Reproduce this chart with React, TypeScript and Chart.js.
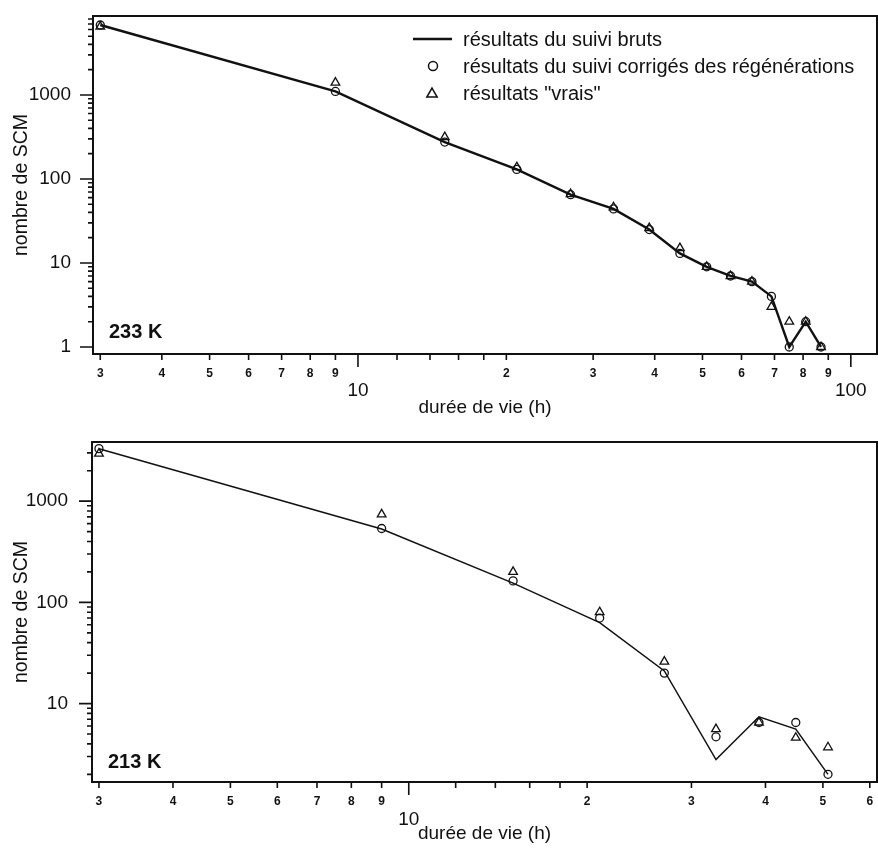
import React, { useEffect, useRef } from 'react';
import { Chart, registerables } from 'chart.js';

Chart.register(...registerables);

const FONT = "'Liberation Sans', Arial, Helvetica, sans-serif";
const INK = '#111';

// Durées de vie (h) et nombres de SCM à 233 K
const hours233 = [3, 9, 15, 21, 27, 33, 39, 45, 51, 57, 63, 69, 75, 81, 87];
const brut233 = [6800, 1100, 275, 130, 65, 44, 25, 13, 9, 7, 6, 4, 1, 2, 1];
const corr233 = [6800, 1100, 275, 130, 65, 44, 25, 13, 9, 7, 6, 4, 1, 2, 1];
const vrai233 = [6500, 1400, 315, 138, 66, 46, 26, 15, 9, 7, 6, 3, 2, 2, 1];

// Durées de vie (h) et nombres de SCM à 213 K
const hours213 = [3, 9, 15, 21, 27, 33, 39, 45, 51];
const brut213 = [3300, 530, 155, 63, 21, 2.8, 7.4, 5.6, 2];
const corr213 = [3300, 537, 163, 70, 20, 4.7, 6.5, 6.5, 2];
const vrai213 = [2950, 740, 200, 80, 26, 5.6, 6.5, 4.6, 3.7];

// Graduations
const xTicks233 = [3, 4, 5, 6, 7, 8, 9, 10, 12, 14, 16, 18, 20, 30, 40, 50, 60, 70, 80, 90, 100];
const xTicks213 = [3, 4, 5, 6, 7, 8, 9, 10, 12, 14, 16, 18, 20, 30, 40, 50, 60];
const yTicks233 = [
  1, 2, 3, 4, 5, 6, 7, 8, 9,
  10, 20, 30, 40, 50, 60, 70, 80, 90,
  100, 200, 300, 400, 500, 600, 700, 800, 900,
  1000, 2000, 3000, 4000, 5000, 6000, 7000, 8000,
];
const yTicks213 = [
  2, 3, 4, 5, 6, 7, 8, 9,
  10, 20, 30, 40, 50, 60, 70, 80, 90,
  100, 200, 300, 400, 500, 600, 700, 800, 900,
  1000, 2000, 3000,
];
const xMajor = [10, 100];
const xUnlabeled = [12, 14, 16, 18];
const yMajor = [1, 10, 100, 1000];

const legendLabels = [
  'résultats du suivi bruts',
  'résultats du suivi corrigés des régénérations',
  'résultats "vrais"',
];
const xTitle = 'durée de vie (h)';
const yTitle = 'nombre de SCM';

interface PanelCfg {
  tag: string;
  hours: number[];
  brut: number[];
  corr: number[];
  vrai: number[];
  xTicks: number[];
  yTicks: number[];
  xMin: number;
  xMax: number;
  yMin: number;
  yMax: number;
  height: number;
  padTop: number;
  yWidth: number;
  xHeight: number;
  yTickPad: number;
  xTitlePad: number;
  majorLH: number;
  lineWidth: number;
  tagDy: number;
  legend: boolean;
}

const panels: PanelCfg[] = [
  {
    tag: '233 K', hours: hours233, brut: brut233, corr: corr233, vrai: vrai233,
    xTicks: xTicks233, yTicks: yTicks233,
    xMin: 2.9, xMax: 113, yMin: 0.825, yMax: 8700,
    height: 420, padTop: 16, yWidth: 93, xHeight: 66, yTickPad: 22, xTitlePad: 0.6,
    majorLH: 16.7, lineWidth: 2.4, tagDy: 22, legend: true,
  },
  {
    tag: '213 K', hours: hours213, brut: brut213, corr: corr213, vrai: vrai213,
    xTicks: xTicks213, yTicks: yTicks213,
    xMin: 2.92, xMax: 61.7, yMin: 1.68, yMax: 3840,
    height: 429, padTop: 22, yWidth: 92, xHeight: 67, yTickPad: 24, xTitlePad: 3.6,
    majorLH: 17.3, lineWidth: 1.5, tagDy: 20, legend: false,
  },
];

function xLabel(v: number): string | string[] {
  if (xMajor.includes(v)) return ['', String(v)];
  if (xUnlabeled.includes(v)) return '';
  return String(v >= 10 ? Math.round(v / 10) : v);
}

function triangle(ctx: CanvasRenderingContext2D, x: number, y: number, r: number) {
  ctx.beginPath();
  for (let k = 0; k < 3; k++) {
    const a = (k * 2 * Math.PI) / 3;
    const px = x + Math.sin(a) * r;
    const py = y - Math.cos(a) * r;
    if (k === 0) ctx.moveTo(px, py);
    else ctx.lineTo(px, py);
  }
  ctx.closePath();
  ctx.stroke();
}

function makeDecor(cfg: PanelCfg) {
  return {
    id: 'panelDecor',
    afterDraw(chart: any) {
      const { ctx, chartArea: a, scales } = chart;
      ctx.save();
      ctx.strokeStyle = INK;
      ctx.fillStyle = INK;
      ctx.lineWidth = 1.6;
      ctx.beginPath();
      for (const t of scales.x.ticks) {
        const px = scales.x.getPixelForValue(t.value);
        const len = xMajor.includes(t.value) ? 13 : 6;
        ctx.moveTo(px, a.bottom);
        ctx.lineTo(px, a.bottom + len);
      }
      for (const t of scales.y.ticks) {
        const py = scales.y.getPixelForValue(t.value);
        const len = yMajor.includes(t.value) ? 13 : 5;
        ctx.moveTo(a.left - len, py);
        ctx.lineTo(a.left, py);
      }
      ctx.stroke();

      ctx.lineWidth = 2;
      ctx.strokeRect(a.left, a.top, a.right - a.left, a.bottom - a.top);

      ctx.font = `bold 20px ${FONT}`;
      ctx.textBaseline = 'middle';
      ctx.textAlign = 'left';
      ctx.fillText(cfg.tag, a.left + 16, a.bottom - cfg.tagDy);

      if (cfg.legend) {
        const sx = a.left + 320;
        const tx = a.left + 370;
        const rows = [a.top + 23, a.top + 50, a.top + 77];
        ctx.lineWidth = cfg.lineWidth;
        ctx.beginPath();
        ctx.moveTo(sx, rows[0]);
        ctx.lineTo(sx + 39, rows[0]);
        ctx.stroke();
        ctx.lineWidth = 1.5;
        ctx.beginPath();
        ctx.arc(sx + 20, rows[1], 4.5, 0, Math.PI * 2);
        ctx.stroke();
        triangle(ctx, sx + 19, rows[2] + 1, 6);
        ctx.font = `20px ${FONT}`;
        legendLabels.forEach((s, i) => ctx.fillText(s, tx, rows[i] + 1));
      }
      ctx.restore();
    },
  };
}

function Panel({ cfg }: { cfg: PanelCfg }) {
  const ref = useRef<HTMLCanvasElement>(null);

  useEffect(() => {
    const pts = (ys: number[]) => cfg.hours.map((h, i) => ({ x: h, y: ys[i] }));
    const chart = new Chart(ref.current as HTMLCanvasElement, {
      type: 'line',
      data: {
        datasets: [
          {
            label: legendLabels[0],
            data: pts(cfg.brut),
            borderColor: INK,
            borderWidth: cfg.lineWidth,
            pointRadius: 0,
            tension: 0,
            fill: false,
          },
          {
            label: legendLabels[1],
            data: pts(cfg.corr),
            showLine: false,
            pointStyle: 'circle',
            pointRadius: 4,
            pointBorderWidth: 1.3,
            pointBorderColor: INK,
            pointBackgroundColor: 'rgba(0,0,0,0)',
            clip: false,
          },
          {
            label: legendLabels[2],
            data: pts(cfg.vrai),
            showLine: false,
            pointStyle: 'triangle',
            pointRadius: 5,
            pointBorderWidth: 1.3,
            pointBorderColor: INK,
            pointBackgroundColor: 'rgba(0,0,0,0)',
            clip: false,
          },
        ],
      } as any,
      options: {
        animation: false,
        responsive: false,
        maintainAspectRatio: false,
        events: [],
        layout: { autoPadding: false, padding: { top: cfg.padTop, right: 1, left: 0, bottom: 0 } },
        plugins: { legend: { display: false }, tooltip: { enabled: false } },
        scales: {
          x: {
            type: 'logarithmic',
            position: 'bottom',
            min: cfg.xMin,
            max: cfg.xMax,
            grid: { display: false, drawTicks: false },
            border: { display: false },
            afterBuildTicks: (s: any) => {
              s.ticks = cfg.xTicks.map((value) => ({ value }));
            },
            afterFit: (s: any) => {
              s.height = cfg.xHeight;
              s.paddingLeft = 0;
              s.paddingRight = 0;
              s.paddingTop = 0;
              s.paddingBottom = 0;
            },
            ticks: {
              autoSkip: false,
              maxRotation: 0,
              minRotation: 0,
              padding: 12,
              color: INK,
              font: (c: any) => {
                const v = c.tick ? c.tick.value : 0;
                return xMajor.includes(v)
                  ? { family: FONT, size: 19, lineHeight: cfg.majorLH / 19 }
                  : { family: FONT, size: 12, weight: 'bold' };
              },
              callback: (v: any) => xLabel(Number(v)),
            },
            title: {
              display: true,
              text: xTitle,
              color: INK,
              font: { family: FONT, size: 19 },
              padding: { top: 0, bottom: cfg.xTitlePad },
            },
          },
          y: {
            type: 'logarithmic',
            position: 'left',
            min: cfg.yMin,
            max: cfg.yMax,
            grid: { display: false, drawTicks: false },
            border: { display: false },
            afterBuildTicks: (s: any) => {
              s.ticks = cfg.yTicks.map((value) => ({ value }));
            },
            afterFit: (s: any) => {
              s.width = cfg.yWidth;
              s.paddingLeft = 0;
              s.paddingRight = 0;
              s.paddingTop = 0;
              s.paddingBottom = 0;
            },
            ticks: {
              autoSkip: false,
              padding: cfg.yTickPad,
              color: INK,
              font: { family: FONT, size: 19 },
              callback: (v: any) => (yMajor.includes(Number(v)) ? String(v) : ''),
            },
            title: {
              display: true,
              text: yTitle,
              color: INK,
              font: { family: FONT, size: 19.5 },
              padding: { top: 10.3, bottom: 0 },
            },
          },
        },
      } as any,
      plugins: [makeDecor(cfg)],
    });
    return () => chart.destroy();
  }, [cfg]);

  return (
    <canvas
      ref={ref}
      width={878}
      height={cfg.height}
      style={{ display: 'block', width: 878, height: cfg.height }}
    />
  );
}

export default function App() {
  return (
    <div style={{ position: 'absolute', left: 0, top: 0, width: 878, height: 849, background: '#fff' }}>
      {panels.map((p) => (
        <Panel key={p.tag} cfg={p} />
      ))}
    </div>
  );
}
